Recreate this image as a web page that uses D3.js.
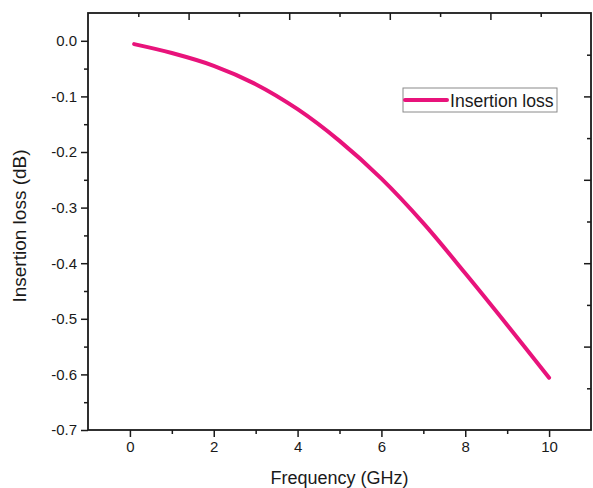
<!DOCTYPE html>
<html>
<head>
<meta charset="utf-8">
<script src="https://cdn.jsdelivr.net/npm/d3@7"></script>
<style>
  html, body { margin: 0; padding: 0; background: #fff; }
  svg { display: block; font-family: "Liberation Sans", Arial, sans-serif; }
</style>
</head>
<body>
<svg id="chart" width="593" height="488"></svg>
<script>
// Insertion loss versus frequency
const frequencyGHz = [0.1, 1, 2, 3, 4, 5, 6, 7, 8, 9, 10];
const insertionLossDb = [-0.006, -0.022, -0.045, -0.078, -0.123, -0.180, -0.248, -0.328, -0.418, -0.511, -0.606];
const seriesName = "Insertion loss";
const xTickValues = [0, 2, 4, 6, 8, 10];
const yTickValues = [0.0, -0.1, -0.2, -0.3, -0.4, -0.5, -0.6, -0.7];
const xLabel = "Frequency (GHz)";
const yLabel = "Insertion loss (dB)";

const svg = d3.select("#chart");
const box = { left: 88, right: 591, top: 13, bottom: 430 };
const ink = "#1a1a1a";
const lineColor = "#e8137b";

const x = d3.scaleLinear().domain([-1, 11]).range([box.left, box.right]);
const y = d3.scaleLinear().domain([-0.7, 0.05]).range([box.bottom, box.top]);

// secondary (unlabelled) scales for the top and right frame ticks
const xTop = d3.scaleLinear().domain([0, 5]).range([box.left, box.right]);
const yRight = d3.scaleLinear().domain([0, 5]).range([box.top, box.bottom]);

function styleAxis(g) {
  g.select(".domain").remove();
  g.selectAll("line").attr("stroke", ink).attr("stroke-width", 1.5);
  g.selectAll("text").attr("fill", ink);
}

// bottom axis: major + minor
svg.append("g")
  .attr("transform", `translate(0,${box.bottom})`)
  .call(d3.axisBottom(x).tickValues([1, 3, 5, 7, 9]).tickSize(4).tickFormat(""))
  .call(styleAxis);
svg.append("g")
  .attr("transform", `translate(0,${box.bottom})`)
  .call(d3.axisBottom(x).tickValues(xTickValues).tickSize(7).tickPadding(4).tickFormat(d3.format("d")))
  .call(styleAxis)
  .call(g => g.selectAll("text").attr("font-size", 15));

// left axis: major + minor
svg.append("g")
  .attr("transform", `translate(${box.left},0)`)
  .call(d3.axisLeft(y).tickValues(d3.range(-0.65, 0.04, 0.1)).tickSize(4).tickFormat(""))
  .call(styleAxis);
svg.append("g")
  .attr("transform", `translate(${box.left},0)`)
  .call(d3.axisLeft(y).tickValues(yTickValues).tickSize(7).tickPadding(4))
  .call(styleAxis)
  .call(g => g.selectAll("text").attr("font-size", 15).text(d => d3.format(".1f")(d).replace("−", "-")));

// top axis, ticks inward
svg.append("g")
  .attr("transform", `translate(0,${box.top})`)
  .call(d3.axisBottom(xTop).tickValues([1, 2, 3, 4]).tickSize(7).tickFormat(""))
  .call(styleAxis);
svg.append("g")
  .attr("transform", `translate(0,${box.top})`)
  .call(d3.axisBottom(xTop).tickValues([0.5, 1.5, 2.5, 3.5, 4.5]).tickSize(4).tickFormat(""))
  .call(styleAxis);

// right axis, ticks inward
svg.append("g")
  .attr("transform", `translate(${box.right},0)`)
  .call(d3.axisLeft(yRight).tickValues([1, 2, 3, 4]).tickSize(7).tickFormat(""))
  .call(styleAxis);
svg.append("g")
  .attr("transform", `translate(${box.right},0)`)
  .call(d3.axisLeft(yRight).tickValues([0.5, 1.5, 2.5, 3.5, 4.5]).tickSize(4).tickFormat(""))
  .call(styleAxis);

// frame
svg.append("rect")
  .attr("x", box.left).attr("y", box.top)
  .attr("width", box.right - box.left).attr("height", box.bottom - box.top)
  .attr("fill", "none").attr("stroke", ink).attr("stroke-width", 1.8);

// curve
const points = frequencyGHz.map((f, i) => [f, insertionLossDb[i]]);
svg.append("path")
  .datum(points)
  .attr("fill", "none")
  .attr("stroke", lineColor)
  .attr("stroke-width", 4)
  .attr("stroke-linecap", "round")
  .attr("stroke-linejoin", "round")
  .attr("d", d3.line().x(d => x(d[0])).y(d => y(d[1])).curve(d3.curveCatmullRom.alpha(0.5)));

// legend
const legend = svg.append("g").attr("transform", "translate(403,88)");
legend.append("rect")
  .attr("width", 154).attr("height", 24)
  .attr("fill", "#fff").attr("stroke", "#8a8a8a").attr("stroke-width", 1);
legend.append("line")
  .attr("x1", 2).attr("x2", 44).attr("y1", 12).attr("y2", 12)
  .attr("stroke", lineColor).attr("stroke-width", 4).attr("stroke-linecap", "round");
legend.append("text")
  .attr("x", 47).attr("y", 18.5)
  .attr("font-size", 17.6).attr("fill", ink)
  .text(seriesName);

// axis titles
svg.append("text")
  .attr("x", (box.left + box.right) / 2).attr("y", 484)
  .attr("text-anchor", "middle").attr("font-size", 18).attr("fill", ink)
  .text(xLabel);
svg.append("text")
  .attr("transform", `translate(26,226) rotate(-90)`)
  .attr("text-anchor", "middle").attr("font-size", 19).attr("fill", ink)
  .text(yLabel);
</script>
</body>
</html>
